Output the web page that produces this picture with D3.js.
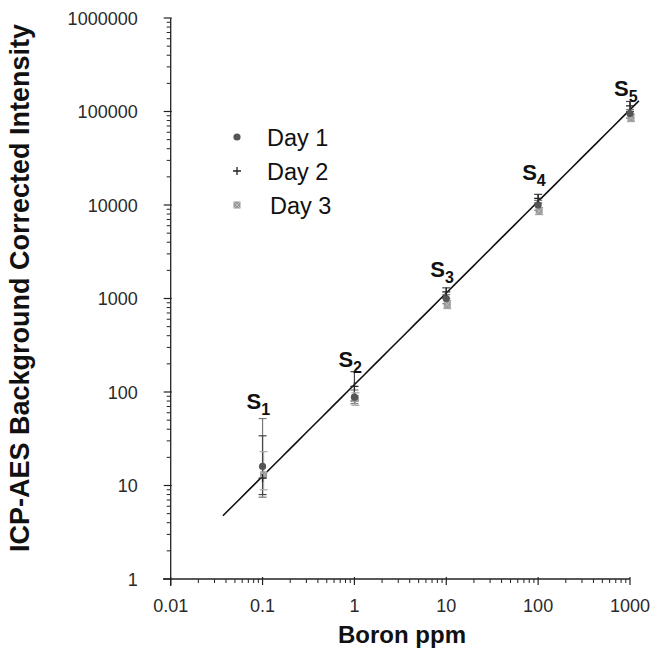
<!DOCTYPE html>
<html>
<head>
<meta charset="utf-8">
<script src="https://cdn.jsdelivr.net/npm/d3@7"></script>
<style>
  body { margin: 0; background: #fff; }
  text { font-family: Arial, "Liberation Sans", sans-serif; }
</style>
</head>
<body>
<div id="chart"></div>
<script>
// standards (ppm) and readings per day
const standards = ["S1", "S2", "S3", "S4", "S5"];
const boronPpm = [0.1, 1, 10, 100, 1000];

const day1 = [16, 88, 1000, 10000, 95000];
const day1Lo = [7.5, 75, 880, 8800, 85000];
const day1Hi = [52, 105, 1100, 11200, 105000];

const day2 = [12, 115, 1180, 11800, 115000];
const day2Lo = [8, 80, 1000, 10500, 100000];
const day2Hi = [34, 165, 1300, 13000, 128000];

const day3 = [13, 85, 860, 8600, 86000];
const day3Lo = [9, 72, 780, 7900, 78000];
const day3Hi = [23, 98, 950, 9400, 94000];

// fitted calibration line
const fitX = [0.037, 1250];
const fitA = 120, fitB = 0.98;

const xTicks = [0.01, 0.1, 1, 10, 100, 1000];
const yTicks = [1, 10, 100, 1000, 10000, 100000, 1000000];

const W = 660, H = 654;
const svg = d3.select('#chart').append('svg')
  .attr('width', W).attr('height', H);

const x = d3.scaleLog().domain([0.01, 1000]).range([170.7, 630]);
const y = d3.scaleLog().domain([1, 1000000]).range([579, 18]);

const axisColor = '#222';

// minor ticks
function minors(lo, hi) {
  let out = [];
  for (let d = lo; d < hi; d *= 10) {
    for (let k = 2; k <= 9; k++) out.push(d * k);
  }
  return out;
}

let xAx = svg.append('g').attr('transform', 'translate(0,' + y(1) + ')');
xAx.append('line').attr('x1', 163).attr('x2', x(1000))
  .attr('stroke', axisColor).attr('stroke-width', 1.3);
xAx.selectAll('.mn').data(minors(0.01, 1000)).join('line')
  .attr('x1', d => x(d)).attr('x2', d => x(d))
  .attr('y1', 0).attr('y2', 4).attr('stroke', axisColor);
xAx.selectAll('.mj').data(xTicks).join('line')
  .attr('x1', d => x(d)).attr('x2', d => x(d))
  .attr('y1', -2).attr('y2', 6).attr('stroke', axisColor).attr('stroke-width', 1.2);
xAx.selectAll('.lb').data(xTicks).join('text')
  .attr('x', d => x(d)).attr('y', 33)
  .attr('text-anchor', 'middle').attr('font-size', 18).attr('fill', '#2a2a2a')
  .text(d => String(d));

let yAx = svg.append('g').attr('transform', 'translate(' + x(0.01) + ',0)');
yAx.append('line').attr('y1', y(1) + 7).attr('y2', y(1000000))
  .attr('stroke', axisColor).attr('stroke-width', 1.3);
yAx.selectAll('.mn').data(minors(1, 1000000)).join('line')
  .attr('y1', d => y(d)).attr('y2', d => y(d))
  .attr('x1', 0).attr('x2', -4).attr('stroke', axisColor);
yAx.selectAll('.mj').data(yTicks).join('line')
  .attr('y1', d => y(d)).attr('y2', d => y(d))
  .attr('x1', -7).attr('x2', 1).attr('stroke', axisColor).attr('stroke-width', 1.2);
yAx.selectAll('.lb').data(yTicks).join('text')
  .attr('x', -33).attr('y', d => y(d) + 6.5)
  .attr('text-anchor', 'end').attr('font-size', 18).attr('fill', '#2a2a2a')
  .text(d => String(d));

// axis titles
svg.append('text').attr('x', 402).attr('y', 643)
  .attr('text-anchor', 'middle').attr('font-size', 24).attr('font-weight', 'bold')
  .attr('fill', '#111').text('Boron ppm');
svg.append('text')
  .attr('transform', 'translate(29,' + 288 + ') rotate(-90)')
  .attr('text-anchor', 'middle').attr('font-size', 27).attr('font-weight', 'bold')
  .attr('fill', '#111').text('ICP-AES Background Corrected Intensity');

// fit line
const fitPts = d3.range(0, 51).map(i => {
  const lx = Math.log10(fitX[0]) + i / 50 * (Math.log10(fitX[1]) - Math.log10(fitX[0]));
  const xv = Math.pow(10, lx);
  return [xv, fitA * Math.pow(xv, fitB)];
});
svg.append('path').datum(fitPts)
  .attr('d', d3.line().x(d => x(d[0])).y(d => y(d[1])))
  .attr('fill', 'none').attr('stroke', '#111').attr('stroke-width', 1.6);

// error bars
const series = [
  {v: day1, lo: day1Lo, hi: day1Hi, col: '#777', dx: 0},
  {v: day2, lo: day2Lo, hi: day2Hi, col: '#444', dx: 0},
  {v: day3, lo: day3Lo, hi: day3Hi, col: '#aaa', dx: 1}
];
series.forEach(s => {
  const g = svg.append('g');
  boronPpm.forEach((b, i) => {
    const cx = x(b) + s.dx;
    g.append('line').attr('x1', cx).attr('x2', cx)
      .attr('y1', y(s.lo[i])).attr('y2', y(s.hi[i]))
      .attr('stroke', s.col).attr('stroke-width', 1.2);
    [s.lo[i], s.hi[i]].forEach(e => {
      g.append('line').attr('x1', cx - 4).attr('x2', cx + 4)
        .attr('y1', y(e)).attr('y2', y(e))
        .attr('stroke', s.col).attr('stroke-width', 1.2);
    });
  });
});

// markers
function drawMarker(g, kind, cx, cy) {
  if (kind === 1) {
    g.append('circle').attr('cx', cx).attr('cy', cy).attr('r', 3.6).attr('fill', '#555');
  } else if (kind === 2) {
    g.append('path').attr('d', `M${cx - 4},${cy}H${cx + 4}M${cx},${cy - 4}V${cy + 4}`)
      .attr('stroke', '#222').attr('stroke-width', 1.3);
  } else {
    g.append('rect').attr('x', cx - 3.5).attr('y', cy - 3.5).attr('width', 7).attr('height', 7)
      .attr('fill', '#999');
    g.append('path').attr('d', `M${cx - 3},${cy - 3}L${cx + 3},${cy + 3}M${cx + 3},${cy - 3}L${cx - 3},${cy + 3}`)
      .attr('stroke', '#bbb').attr('stroke-width', 1);
  }
}
const markG = svg.append('g');
boronPpm.forEach((b, i) => {
  drawMarker(markG, 3, x(b) + 1, y(day3[i]));
  drawMarker(markG, 1, x(b), y(day1[i]));
  drawMarker(markG, 2, x(b), y(day2[i]));
});

// standard labels: offset of the baseline above the highest error cap
const labelLift = [10, 5, 11, 14, 5];
const labelTop = boronPpm.map((b, i) => Math.max(day1Hi[i], day2Hi[i], day3Hi[i]));
standards.forEach((s, i) => {
  const t = svg.append('text')
    .attr('x', x(boronPpm[i]) - 16)
    .attr('y', y(labelTop[i]) - labelLift[i])
    .attr('font-size', 22).attr('font-weight', 'bold')
    .attr('fill', '#111');
  t.append('tspan').text('S');
  t.append('tspan').attr('dy', 6).attr('font-size', 16).text(s.slice(1));
});

// legend
const legendNames = ['Day 1', 'Day 2', 'Day 3'];
const legG = svg.append('g');
legendNames.forEach((n, i) => {
  const ly = 137 + i * 34;
  drawMarker(legG, i + 1, 237, ly);
  legG.append('text').attr('x', 267 + (i === 2 ? 3 : 0)).attr('y', ly + 8.5)
    .attr('font-size', 23.5).attr('fill', '#111').text(n);
});
</script>
</body>
</html>
